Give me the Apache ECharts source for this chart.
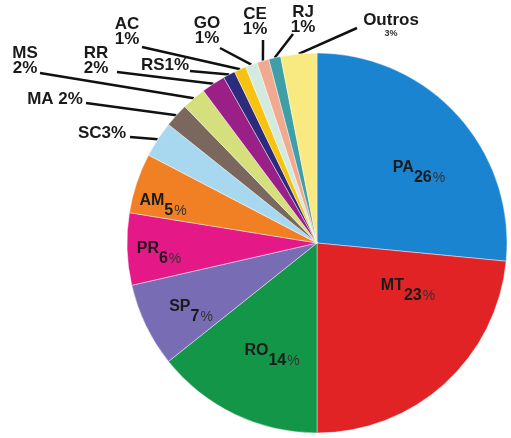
<!DOCTYPE html>
<html><head><meta charset="utf-8">
<script src="https://cdn.jsdelivr.net/npm/echarts@6/dist/echarts.min.js"></script>
<style>html,body{margin:0;padding:0;background:#fff}#c{width:511px;height:438px}</style>
</head><body><div id="c"></div>
<script>
// ---- data ----
const states = ['PA','MT','RO','SP','PR','AM','SC','MA','MS','RR','RS','AC','GO','CE','RJ','Outros'];
const shares = [26,23,14,7,6,5,3,2,2,2,1,1,1,1,1,3];
const sliceColors = ['#1b84d0','#e22325','#149648','#786cb4','#e41987','#f08023','#a8d8f0','#7a685e','#d5df7c','#9a2088','#2c2b7c','#f7c310','#d3ebde','#f1a990','#3f9ea6','#f8ea80'];

// ---- label placement (annotation layout, not data) ----
const insideAt = {PA:[419,170], MT:[408,288], RO:[272,353], SP:[191,309], PR:[159,251], AM:[163,203]};
const outsideAt = {
  SC:{fmt:'{n|SC3%}', at:[102,133], end:[130,137]},
  MA:{fmt:'{n|MA 2%}', at:[55,99], end:[86,103]},
  MS:{fmt:'{n|MS}\n{n|2%}', at:[25,61], end:[40,73]},
  RR:{fmt:'{n|RR}\n{n|2%}', at:[96,61], end:[117,72]},
  RS:{fmt:'{n|RS1%}', at:[165,65], end:[190,71]},
  AC:{fmt:'{n|AC}\n{n|1%}', at:[127,32], end:[142,47]},
  GO:{fmt:'{n|GO}\n{n|1%}', at:[207,31], end:[220,48]},
  CE:{fmt:'{n|CE}\n{n|1%}', at:[255,22], end:[263,40]},
  RJ:{fmt:'{n|RJ}\n{n|1%}', at:[303,20], end:[293,34]},
  Outros:{fmt:'{n|Outros}\n{s|3%}', at:[391,26], end:[357,28]}
};

const chart = echarts.init(document.getElementById('c'), null, {renderer:'canvas'});
const data = states.map((s, i) => {
  const item = {name: s, value: shares[i], itemStyle: {color: sliceColors[i]}};
  if (insideAt[s]) {
    item.label = {formatter: '{m|' + s + '}{p|' + shares[i] + '}{q|%}'};
    item.labelLine = {show: false};
  } else {
    item.label = {formatter: outsideAt[s].fmt};
    item.labelLine = {show: true};
  }
  return item;
});

const FF = 'Liberation Sans, Arial, sans-serif';
chart.setOption({
  animation: false,
  backgroundColor: '#fff',
  series: [{
    type: 'pie',
    center: [317, 243],
    radius: 190,
    startAngle: 90,
    clockwise: true,
    avoidLabelOverlap: false,
    itemStyle: {borderColor: 'rgba(255,255,255,0.55)', borderWidth: 0.8},
    label: {
      show: true,
      position: 'outside',
      color: '#1a1a1a',
      fontFamily: FF,
      fontWeight: 'bold',
      rich: {
        n: {fontSize: 17, fontWeight: 'bold', color: '#1a1a1a', lineHeight: 15, fontFamily: FF, align: 'center'},
        m: {fontSize: 16, fontWeight: 'bold', color: '#1a1a1a', lineHeight: 15, padding: [0, 0, 4, 0], fontFamily: FF},
        p: {fontSize: 16, fontWeight: 'bold', color: '#1a1a1a', lineHeight: 15, padding: [16, 0, 0, 0], fontFamily: FF},
        q: {fontSize: 14, fontWeight: 'normal', color: '#333', lineHeight: 15, padding: [16, 0, 0, 1], fontFamily: FF},
        s: {fontSize: 9, color: '#333', lineHeight: 12, fontFamily: FF, align: 'center'}
      }
    },
    labelLine: {lineStyle: {color: '#111', width: 2.5}},
    labelLayout: function (params) {
      const name = states[params.dataIndex];
      if (insideAt[name]) {
        const p = insideAt[name];
        return {x: p[0], y: p[1], align: 'center', verticalAlign: 'middle'};
      }
      const o = outsideAt[name];
      const start = params.labelLinePoints ? params.labelLinePoints[0] : o.end;
      return {x: o.at[0], y: o.at[1], align: 'center', verticalAlign: 'middle', labelLinePoints: [o.end, start]};
    },
    data: data
  }]
});
</script>
</body></html>
